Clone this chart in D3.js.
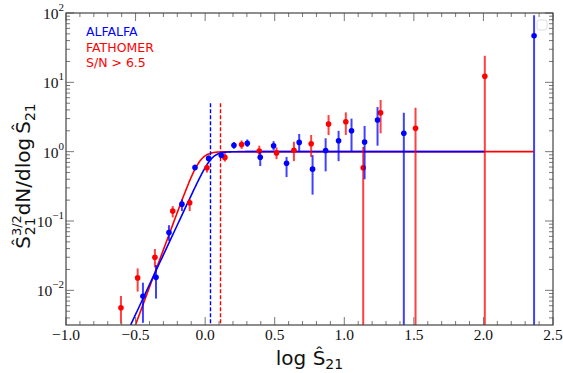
<!DOCTYPE html>
<html>
<head>
<meta charset="utf-8">
<script src="https://cdn.jsdelivr.net/npm/d3@7"></script>
<style>
  body { margin: 0; background: #fff; }
  svg { display: block; }
  .serif { font-family: "Liberation Serif", "DejaVu Serif", "Times New Roman", serif; }
</style>
</head>
<body>
<div id="chart"></div>
<script>
// ALFALFA (blue)
let alfalfaX = [-0.447, -0.353, -0.260, -0.167, -0.073, 0.025, 0.116, 0.207, 0.303, 0.396, 0.492, 0.585, 0.676, 0.772, 0.866, 0.959, 1.052, 1.146, 1.239, 1.428, 2.364]
let alfalfaY = [0.0082, 0.0154, 0.068, 0.175, 0.59, 0.80, 0.89, 1.24, 1.32, 0.83, 1.22, 0.68, 1.36, 0.56, 1.04, 1.44, 2.00, 1.38, 2.86, 1.84, 47]
let alfalfaHi = [0.0129, 0.0231, 0.087, 0.204, 0.65, 0.88, 0.99, 1.38, 1.50, 1.0, 1.42, 0.84, 1.80, 0.89, 1.56, 2.0, 3.0, 2.35, 4.4, 3.64, 93]
let alfalfaLo = [0.0034, 0.0076, 0.0518, 0.139, 0.54, 0.73, 0.80, 1.10, 1.17, 0.62, 1.05, 0.43, 1.03, 0.24, 0.52, 0.73, 1.02, 0.40, 1.22, 0.001, 0.001]

// FATHOMER S/N > 6.5 (red)
let fathomerX = [-0.605, -0.485, -0.361, -0.233, -0.111, 0.013, 0.142, 0.262, 0.389, 0.513, 0.638, 0.762, 0.887, 1.011, 1.136, 1.261, 1.512, 2.010]
let fathomerY = [0.0056, 0.0151, 0.030, 0.139, 0.183, 0.586, 0.826, 1.27, 1.02, 0.96, 1.05, 1.30, 2.50, 2.70, 0.586, 3.64, 2.17, 12.2]
let fathomerHi = [0.0083, 0.0207, 0.0394, 0.164, 0.207, 0.66, 0.95, 1.45, 1.22, 1.15, 1.39, 1.74, 3.37, 3.69, 1.17, 5.56, 4.30, 24.2]
let fathomerLo = [0.0033, 0.0096, 0.0214, 0.113, 0.139, 0.50, 0.72, 1.10, 0.84, 0.78, 0.73, 0.84, 1.74, 1.74, 0.001, 1.84, 0.001, 0.001]

// completeness fits: slope, break, knee sharpness, end of curve, completeness limit (dashed)
let alfalfaFit = { slope: 4.3, brk: 0.046, sharp: 3, end: 2.01, limit: 0.034 }
let fathomerFit = { slope: 5.4, brk: -0.038, sharp: 2.2, end: 2.36, limit: 0.106 }

let xTicks = [-1.0, -0.5, 0.0, 0.5, 1.0, 1.5, 2.0, 2.5]
let yTicks = [-2, -1, 0, 1, 2]

let width = 563
let height = 373
let pLeft = 66, pRight = 553, pTop = 13, pBottom = 325

let svg = d3.select('#chart').append('svg').attr('width', width).attr('height', height)

let x = d3.scaleLinear().domain([-1, 2.5]).range([pLeft, pRight])
let y = d3.scaleLog().domain([Math.pow(10, -2.5), 100]).range([pBottom, pTop])

svg.append('clipPath').attr('id', 'clip')
  .append('rect').attr('x', pLeft).attr('y', pTop).attr('width', pRight - pLeft).attr('height', pBottom - pTop)

let plot = svg.append('g').attr('clip-path', 'url(#clip)')

function fitCurve (p) {
  let pts = []
  for (let v = -0.8; v <= p.end + 1e-9; v += 0.005) {
    let f = Math.pow(1 + Math.pow(10, -p.slope * p.sharp * (v - p.brk)), -1 / p.sharp)
    pts.push([v, f])
  }
  pts.push([p.end, 1])
  return pts
}

let line = d3.line().x((d) => x(d[0])).y((d) => y(d[1]))

function drawFit (p, color) {
  plot.append('path').datum(fitCurve(p)).attr('d', line)
    .attr('fill', 'none').attr('stroke', color).attr('stroke-width', 1.6)
  let lx = Math.round(x(p.limit)) + 0.5
  plot.append('line')
    .attr('x1', lx).attr('x2', lx)
    .attr('y1', y(5)).attr('y2', pBottom)
    .attr('stroke', color).attr('stroke-width', 1.4).attr('stroke-dasharray', '4,2')
}

function drawPoints (xs, ys, lo, hi, color) {
  let g = plot.append('g')
  g.selectAll('line').data(xs).join('line')
    .attr('x1', (d) => x(d)).attr('x2', (d) => x(d))
    .attr('y1', (d, i) => y(Math.max(lo[i], 0.001)))
    .attr('y2', (d, i) => y(hi[i]))
    .attr('stroke', color).attr('stroke-width', 2).attr('stroke-opacity', 0.75)
  g.selectAll('circle').data(xs).join('circle')
    .attr('cx', (d) => x(d)).attr('cy', (d, i) => y(ys[i]))
    .attr('r', 2.8).attr('fill', color)
}

drawFit(fathomerFit, '#ff0000')
drawFit(alfalfaFit, '#0000ff')
drawPoints(fathomerX, fathomerY, fathomerLo, fathomerHi, '#ff0000')
drawPoints(alfalfaX, alfalfaY, alfalfaLo, alfalfaHi, '#0000ff')

// axes with inward ticks on all four sides
let tickColor = '#777'
let minorX = d3.range(-10, 26).map((d) => d / 10).filter((d) => Math.abs(d * 2 - Math.round(d * 2)) > 1e-6)
let minorY = []
for (let k = -3; k < 2; k++) {
  for (let m = 2; m <= 9; m++) {
    let v = m * Math.pow(10, k)
    if (v > Math.pow(10, -2.5) && v < 100) minorY.push(v)
  }
}

let ticks = svg.append('g').attr('stroke', tickColor).attr('stroke-width', 1)
xTicks.forEach((t) => {
  ticks.append('line').attr('x1', x(t)).attr('x2', x(t)).attr('y1', pBottom).attr('y2', pBottom - 8)
  ticks.append('line').attr('x1', x(t)).attr('x2', x(t)).attr('y1', pTop).attr('y2', pTop + 8)
})
minorX.forEach((t) => {
  ticks.append('line').attr('x1', x(t)).attr('x2', x(t)).attr('y1', pBottom).attr('y2', pBottom - 4)
  ticks.append('line').attr('x1', x(t)).attr('x2', x(t)).attr('y1', pTop).attr('y2', pTop + 4)
})
yTicks.forEach((t) => {
  let v = Math.pow(10, t)
  ticks.append('line').attr('x1', pLeft).attr('x2', pLeft + 8).attr('y1', y(v)).attr('y2', y(v))
  ticks.append('line').attr('x1', pRight).attr('x2', pRight - 8).attr('y1', y(v)).attr('y2', y(v))
})
minorY.forEach((v) => {
  ticks.append('line').attr('x1', pLeft).attr('x2', pLeft + 4).attr('y1', y(v)).attr('y2', y(v))
  ticks.append('line').attr('x1', pRight).attr('x2', pRight - 4).attr('y1', y(v)).attr('y2', y(v))
})

svg.append('rect').attr('x', pLeft).attr('y', pTop).attr('width', pRight - pLeft).attr('height', pBottom - pTop)
  .attr('fill', 'none').attr('stroke', '#444').attr('stroke-width', 1.2)

let fmt = d3.format('.1f')
svg.append('g').attr('class', 'serif').selectAll('text').data(xTicks).join('text')
  .attr('x', (d) => x(d)).attr('y', pBottom + 15)
  .attr('text-anchor', 'middle')
  .style('font-size', '15.5px').attr('fill', '#111')
  .text((d) => fmt(d))

let yl = svg.append('g').attr('class', 'serif').attr('fill', '#111')
yTicks.forEach((t) => {
  let txt = yl.append('text').attr('x', pLeft - 26).attr('y', y(Math.pow(10, t)) + 6).attr('text-anchor', 'start')
  txt.append('tspan').style('font-size', '15.5px').text('10')
  txt.append('tspan').attr('dy', -8).style('font-size', '11px').text(t < 0 ? '\u2212' + (-t) : t)
})
yl.selectAll('text').each(function () {
  let w = this.getComputedTextLength()
  d3.select(this).attr('x', pLeft - 2 - w)
})

// axis titles
let sans = '"DejaVu Sans", Verdana, sans-serif'
let xt = svg.append('text').attr('x', (pLeft + pRight) / 2).attr('y', 365).attr('text-anchor', 'middle')
  .style('font-family', sans).style('font-size', '20px').attr('fill', '#111')
xt.append('tspan').text('log \u015C')
xt.append('tspan').attr('dy', 4).style('font-size', '14px').text('21')

let yt = svg.append('text').attr('transform', 'translate(30,176) rotate(-90)').attr('text-anchor', 'middle')
  .style('font-family', sans).style('font-size', '20px').attr('fill', '#111')
yt.append('tspan').text('\u015C')
yt.append('tspan').attr('dy', -9).style('font-size', '13px').text('3/2')
yt.append('tspan').attr('dx', -20).attr('dy', 14).style('font-size', '14px').text('21')
yt.append('tspan').attr('dx', 2).attr('dy', -5).text('dN/dlog\u2009\u015C')
yt.append('tspan').attr('dy', 5).style('font-size', '14px').text('21')

// legend
let legend = [['ALFALFA', '#0000ff'], ['FATHOMER', '#ff0000'], ['S/N > 6.5', '#ff0000']]
svg.append('g').selectAll('text').data(legend).join('text')
  .attr('x', 86).attr('y', (d, i) => 36 + i * 15.5)
  .style('font-family', sans).style('font-size', '12.5px')
  .attr('fill', (d) => d[1]).text((d) => d[0])

svg.append('rect').attr('x', 537).attr('y', 20).attr('width', 10).attr('height', 10).attr('rx', 2.5)
  .attr('fill', 'none').attr('stroke', '#ddd').attr('stroke-width', 1)
</script>
</body>
</html>
